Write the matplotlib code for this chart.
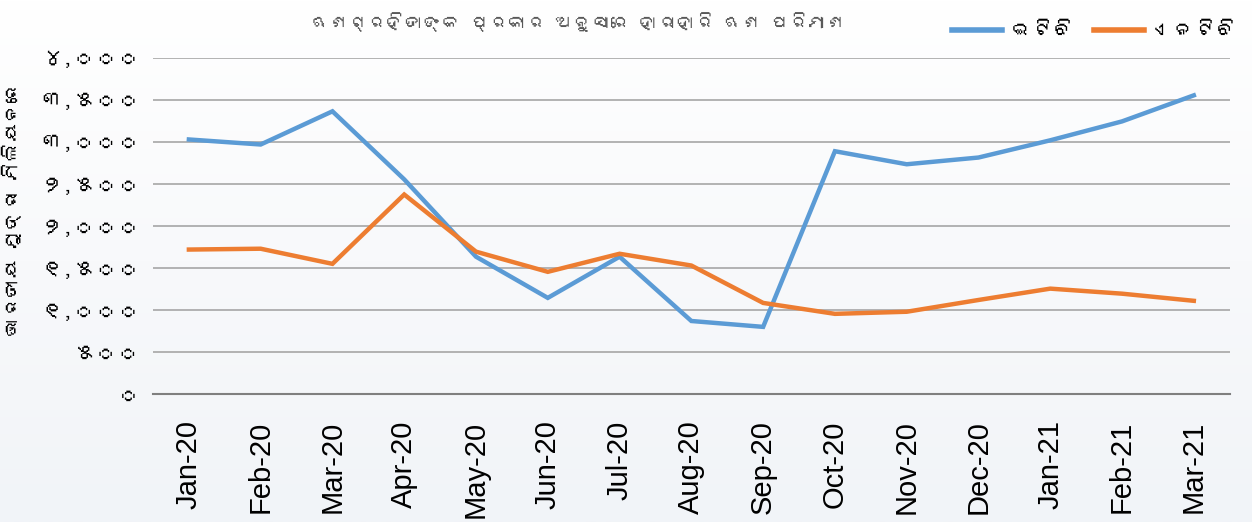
import numpy as np
import matplotlib.pyplot as plt
from matplotlib import font_manager
from matplotlib.ft2font import FT2Font
from matplotlib.colors import LinearSegmentedColormap

months = ['Jan-20', 'Feb-20', 'Mar-20', 'Apr-20', 'May-20', 'Jun-20', 'Jul-20', 'Aug-20',
          'Sep-20', 'Oct-20', 'Nov-20', 'Dec-20', 'Jan-21', 'Feb-21', 'Mar-21']
etb = [3030, 2970, 3365, 2555, 1635, 1145, 1635, 870, 800, 2890, 2735, 2815, 3020, 3245, 3555]
ntb = [1720, 1730, 1550, 2375, 1695, 1455, 1670, 1530, 1085, 955, 980, 1120, 1255, 1195, 1110]
yticks = [0, 500, 1000, 1500, 2000, 2500, 3000, 3500, 4000]
ytick_labels = ['୦', '୫୦୦', '୧,୦୦୦', '୧,୫୦୦', '୨,୦୦୦', '୨,୫୦୦', '୩,୦୦୦', '୩,୫୦୦', '୪,୦୦୦']

title = 'ଋଣଗ୍ରହିତାଙ୍କ ପ୍ରକାର ଅନୁସାରେ ହାରାହାରି ଋଣ ପରିମାଣ'
ylabel = 'ଭାରତୀୟ ମୁଦ୍ରା ମିଲିୟନରେ'
series_names = ['ଇଟିବି', 'ଏନଟିବି']


def find_odia_font():
    # look for any installed font that has Odia letters
    for f in font_manager.fontManager.ttflist:
        try:
            cmap = FT2Font(f.fname).get_charmap()
        except Exception:
            continue
        if 0x0B2C in cmap and 0x0B66 in cmap:
            return f.name
    return None


odia = find_odia_font()
families = ([odia] if odia else []) + ['Liberation Sans', 'DejaVu Sans']
plt.rcParams['font.family'] = families

fig = plt.figure(figsize=(12.52, 5.22), dpi=100)

# soft white-to-grey-blue background
bg = fig.add_axes([0, 0, 1, 1], zorder=-10)
grad = np.linspace(0, 1, 256).reshape(-1, 1)
bg_cmap = LinearSegmentedColormap.from_list('bg', ['#ffffff', '#f8f9fb', '#f1f4f8'])
bg.imshow(grad, aspect='auto', cmap=bg_cmap, extent=[0, 1, 0, 1])
bg.set_axis_off()

ax = fig.add_axes([0.1222, 0.245, 0.860, 0.644])
ax.set_facecolor('none')

x = np.arange(len(months))
ax.plot(x, etb, color='#5b9bd5', lw=3.2, solid_joinstyle='miter', label=series_names[0])
ax.plot(x, ntb, color='#ed7d31', lw=3.2, solid_joinstyle='miter', label=series_names[1])

ax.set_xlim(-0.5, len(months) - 0.5)
ax.set_ylim(0, 4000)
ax.set_yticks(yticks)
ax.set_yticklabels(ytick_labels, fontsize=16, fontweight='bold')
ax.set_xticks(x)
ax.set_xticklabels(months, rotation=90, fontsize=21, family=['Liberation Sans', 'DejaVu Sans'])
ax.grid(axis='y', color='#a6a6a6', lw=1.2)
ax.set_axisbelow(True)
for s in ['top', 'right', 'left']:
    ax.spines[s].set_visible(False)
ax.spines['bottom'].set_color('#7f7f7f')
ax.spines['bottom'].set_linewidth(1.5)
ax.tick_params(axis='x', length=0, pad=19)
ax.tick_params(axis='y', length=0, pad=9)

ax.set_ylabel(ylabel, fontsize=14, fontweight='bold')
ax.yaxis.set_label_coords(-0.122, 0.55)
fig.text(0.462, 0.958, title, fontsize=13.5, color='#595959', ha='center', va='center')

leg = fig.legend(loc='upper right', bbox_to_anchor=(1.0, 0.985), ncol=2, frameon=False,
                 fontsize=15, handlelength=2.4, columnspacing=0.9, handletextpad=0.5,
                 borderaxespad=0.3)
for line in leg.get_lines():
    line.set_linewidth(4)
for t in leg.get_texts():
    t.set_fontweight('bold')

fig.savefig('out.png', dpi=100)
